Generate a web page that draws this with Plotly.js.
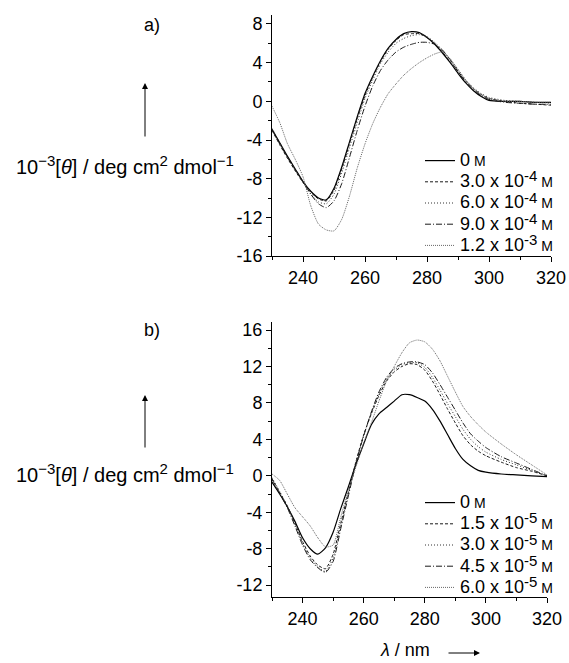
<!DOCTYPE html>
<html>
<head>
<meta charset="utf-8">
<script src="https://cdn.plot.ly/plotly-3.0.1.min.js"></script>
<style>html,body{margin:0;padding:0;background:#fff;}#chart{width:569px;height:663px;}</style>
</head>
<body>
<div id="chart"></div>
<script>
// Wavelength grid (nm)
const wavelength = [230,232.5,235,237.5,240,242.5,245,247.5,250,252.5,255,257.5,260,262.5,265,267.5,270,272.5,275,277.5,280,282.5,285,287.5,290,292.5,295,297.5,300,305,310,315,320];

// Panel a) series
const a_labels = ["0 M", "3.0 x 10-4 M", "6.0 x 10-4 M", "9.0 x 10-4 M", "1.2 x 10-3 M"];
const a_0     = [-2.9,-4.3,-5.7,-7.0,-8.3,-9.3,-10.0,-10.2,-9.0,-6.8,-4.2,-1.6,0.8,2.6,4.2,5.5,6.4,7.0,7.2,7.1,6.6,5.9,5.0,4.0,2.9,1.9,1.1,0.5,0.1,0.0,0.0,-0.1,-0.1];
const a_3e4   = [-3.0,-4.5,-5.9,-7.2,-8.4,-9.4,-10.1,-10.3,-9.2,-7.0,-4.4,-1.8,0.6,2.5,4.1,5.4,6.3,6.9,7.0,7.0,6.6,6.0,5.1,4.1,3.1,2.1,1.3,0.7,0.3,0.0,-0.2,-0.3,-0.4];
const a_6e4   = [-2.8,-4.3,-5.8,-7.1,-8.4,-9.6,-10.4,-10.6,-9.6,-7.4,-4.8,-2.2,0.3,2.2,3.9,5.1,6.0,6.5,6.8,6.9,6.7,6.1,5.3,4.3,3.3,2.2,1.4,0.8,0.4,0.1,0.0,-0.1,-0.2];
const a_9e4   = [-2.9,-4.4,-5.8,-7.1,-8.3,-9.6,-10.6,-11.0,-10.3,-8.5,-5.8,-3.0,-0.5,1.6,3.2,4.3,5.1,5.6,5.9,6.1,6.1,5.9,5.3,4.3,3.1,2.0,1.2,0.6,0.2,-0.1,-0.2,-0.3,-0.3];
const a_12e3  = [-0.5,-2.2,-4.4,-6.0,-7.8,-10.8,-12.7,-13.3,-13.4,-12.2,-9.8,-6.9,-4.4,-2.3,-0.6,0.8,1.8,2.7,3.4,4.0,4.5,4.9,5.1,4.4,3.3,2.2,1.3,0.7,0.3,0.0,0.0,-0.1,-0.1];

// Panel b) series
const b_labels = ["0 M", "1.5 x 10-5 M", "3.0 x 10-5 M", "4.5 x 10-5 M", "6.0 x 10-5 M"];
const b_0     = [-0.7,-2.0,-3.4,-5.0,-6.8,-8.0,-8.6,-7.9,-6.2,-3.6,-1.2,1.3,3.5,5.6,6.8,7.5,8.2,8.9,8.9,8.6,8.2,7.3,6.0,4.5,3.0,1.8,1.1,0.6,0.4,0.2,0.1,0.0,-0.1];
const b_15e5  = [-0.3,-1.8,-3.3,-5.2,-7.2,-8.8,-9.8,-10.2,-8.6,-5.2,-1.8,1.6,4.5,6.8,8.8,10.4,11.4,12.0,12.3,12.2,11.6,10.4,8.9,7.3,5.8,4.4,3.4,2.7,2.2,1.5,0.9,0.5,0.0];
const b_30e5  = [-0.2,-1.7,-3.3,-5.3,-7.4,-9.0,-10.0,-10.5,-9.0,-5.5,-2.0,1.5,4.4,6.9,9.0,10.6,11.6,12.2,12.4,12.4,11.9,10.8,9.4,7.9,6.5,5.1,4.0,3.2,2.6,1.8,1.2,0.6,0.0];
const b_45e5  = [-0.4,-1.9,-3.5,-5.5,-7.6,-9.2,-10.1,-10.6,-9.4,-5.8,-2.2,1.4,4.4,7.0,9.2,10.8,11.8,12.3,12.5,12.5,12.2,11.3,10.0,8.6,7.2,5.8,4.6,3.8,3.1,2.1,1.4,0.7,0.0];
const b_60e5  = [0.2,-0.5,-2.0,-3.5,-4.5,-5.5,-6.8,-7.8,-7.6,-4.5,-1.6,1.0,3.6,5.8,8.2,10.4,12.0,13.5,14.6,14.9,14.7,13.9,12.6,10.9,9.2,7.6,6.5,5.6,4.8,3.5,2.3,1.2,0.1];

// Tick labels
const xTickVals = [240,260,280,300,320];
const xTickText = ["240","260","280","300","320"];
const aYTickVals = [8,4,0,-4,-8,-12,-16];
const aYTickText = ["8","4","0","-4","-8","-12","-16"];
const bYTickVals = [16,12,8,4,0,-4,-8,-12];
const bYTickText = ["16","12","8","4","0","-4","-8","-12"];

function fmtLabel(s){
  const big = "<span style='font-size:18px'>";
  const m = s.match(/^(.*) x 10(-\d) M$/);
  if (m) return big + m[1] + " x 10</span><sup><span style='font-size:15px'>" + m[2] + "</span></sup> <span style='font-size:14px'>M</span>";
  return big + s.replace(/ M$/, "</span> <span style='font-size:14px'>M</span>");
}

const styles = [
  {color:"#000000", dash:"solid", width:1.2},
  {color:"#1a1a1a", dash:"3px,2px", width:1},
  {color:"#333333", dash:"1px,2px", width:1},
  {color:"#1a1a1a", dash:"6px,2px,1px,2px", width:1},
  {color:"#666666", dash:"1px,1px", width:1}
];

const aSeries = [a_0, a_3e4, a_6e4, a_9e4, a_12e3];
const bSeries = [b_0, b_15e5, b_30e5, b_45e5, b_60e5];

const traces = [];
aSeries.forEach((ys, i) => traces.push({
  x: wavelength, y: ys, type: "scatter", mode: "lines",
  name: fmtLabel(a_labels[i]), xaxis: "x", yaxis: "y", legend: "legend",
  line: {color: styles[i].color, dash: styles[i].dash, width: styles[i].width, shape: "spline", smoothing: 0.6}
}));
bSeries.forEach((ys, i) => traces.push({
  x: wavelength, y: ys, type: "scatter", mode: "lines",
  name: fmtLabel(b_labels[i]), xaxis: "x2", yaxis: "y2", legend: "legend2",
  line: {color: styles[i].color, dash: styles[i].dash, width: styles[i].width, shape: "spline", smoothing: 0.6}
}));

const W = 569, H = 663;
const px = v => v / W;
const py = v => 1 - v / H;

const axisCommon = {
  showline: true, linecolor: "#000", linewidth: 1, mirror: false,
  showgrid: false, zeroline: false,
  ticks: "outside", ticklen: 5, tickwidth: 1, tickcolor: "#000",
  tickfont: {size: 18, color: "#000"}, tickmode: "array"
};

const yLabel = "<span style='font-size:20px'>10</span><sup><span style='font-size:15px'>−3</span></sup>[<i>θ</i>] / deg cm<sup><span style='font-size:15px'>2</span></sup> dmol<sup><span style='font-size:15px'>−1</span></sup>";

const layout = {
  width: W, height: H,
  margin: {l: 0, r: 0, t: 0, b: 0},
  paper_bgcolor: "#fff", plot_bgcolor: "#fff",
  font: {family: "Liberation Sans, Arial, sans-serif", color: "#000", size: 16},
  xaxis: Object.assign({}, axisCommon, {domain: [px(272), px(551)], range: [230, 320], anchor: "y",
    tickvals: xTickVals, ticktext: xTickText,
    minor: {ticks: "outside", ticklen: 3, tickmode: "linear", tick0: 230, dtick: 10, tickcolor: "#000"}}),
  yaxis: Object.assign({}, axisCommon, {domain: [py(256), py(15)], range: [-16, 8.93], anchor: "x",
    tickvals: aYTickVals, ticktext: aYTickText,
    minor: {ticks: "outside", ticklen: 3, tickmode: "linear", tick0: 0, dtick: 2, tickcolor: "#000"}}),
  xaxis2: Object.assign({}, axisCommon, {domain: [px(272), px(547)], range: [230, 320], anchor: "y2",
    tickvals: xTickVals, ticktext: xTickText,
    minor: {ticks: "outside", ticklen: 3, tickmode: "linear", tick0: 230, dtick: 10, tickcolor: "#000"}}),
  yaxis2: Object.assign({}, axisCommon, {domain: [py(597), py(322)], range: [-13.3, 16.88], anchor: "x2",
    tickvals: bYTickVals, ticktext: bYTickText,
    minor: {ticks: "outside", ticklen: 3, tickmode: "linear", tick0: 0, dtick: 2, tickcolor: "#000"}}),
  legend: {x: px(420), xanchor: "left", y: py(145), yanchor: "top", bgcolor: "rgba(0,0,0,0)",
    font: {size: 14, color: "#000"}, itemwidth: 30, tracegroupgap: 0},
  legend2: {x: px(420), xanchor: "left", y: py(487), yanchor: "top", bgcolor: "rgba(0,0,0,0)",
    font: {size: 14, color: "#000"}, itemwidth: 30, tracegroupgap: 0},
  showlegend: true,
  annotations: [
    {xref: "paper", yref: "paper", x: px(152), y: py(25), text: "a)", showarrow: false, xanchor: "center", yanchor: "middle", font: {size: 18}},
    {xref: "paper", yref: "paper", x: px(152), y: py(330), text: "b)", showarrow: false, xanchor: "center", yanchor: "middle", font: {size: 18}},
    {xref: "paper", yref: "paper", x: px(125), y: py(165), text: yLabel, showarrow: false, xanchor: "center", yanchor: "middle", font: {size: 20}},
    {xref: "paper", yref: "paper", x: px(125), y: py(473), text: yLabel, showarrow: false, xanchor: "center", yanchor: "middle", font: {size: 20}},
    {xref: "paper", yref: "paper", x: px(145), y: py(83), ax: 0, ay: 55, text: "", showarrow: true, arrowhead: 2, arrowsize: 1.2, arrowwidth: 1, arrowcolor: "#000"},
    {xref: "paper", yref: "paper", x: px(145), y: py(395), ax: 0, ay: 54, text: "", showarrow: true, arrowhead: 2, arrowsize: 1.2, arrowwidth: 1, arrowcolor: "#000"},
    {xref: "paper", yref: "paper", x: px(405), y: py(650), text: "<i>λ</i> / nm", showarrow: false, xanchor: "center", yanchor: "middle", font: {size: 18}},
    {xref: "paper", yref: "paper", x: px(480), y: py(653), ax: -33, ay: 0, text: "", showarrow: true, arrowhead: 2, arrowsize: 1.2, arrowwidth: 1, arrowcolor: "#000"}
  ]
};

Plotly.newPlot("chart", traces, layout, {displayModeBar: false, staticPlot: true});
</script>
</body>
</html>
